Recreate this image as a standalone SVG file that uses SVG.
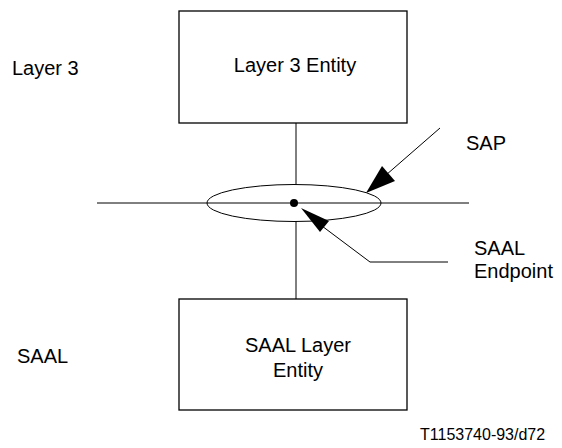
<svg xmlns="http://www.w3.org/2000/svg" width="562" height="448" viewBox="0 0 562 448">
<style>
.box{fill:#fff;stroke:#000;stroke-width:1.3}
.ln{fill:none;stroke:#000;stroke-width:1}
text{font-family:"Liberation Sans",Arial,sans-serif;font-size:20px;fill:#000}
.c{text-anchor:middle}
</style>
<rect width="562" height="448" fill="#fff"/>
<g id="connectors">
<line class="ln" x1="296" y1="123" x2="296" y2="184"/>
<line class="ln" x1="296" y1="221" x2="296" y2="299"/>
<line class="ln" x1="97" y1="203" x2="469" y2="203"/>
<line class="ln" x1="440" y1="128" x2="386" y2="175"/>
<polygon points="366,193 382,166 395,181" fill="#000"/>
<polyline class="ln" points="448,262 370,262 322,226"/>
<polygon points="301,208 329,221 320,232" fill="#000"/>
</g>
<g id="sap">
<ellipse class="ln" cx="294" cy="203" rx="87" ry="18.5"/>
<circle cx="294" cy="203" r="4" fill="#000"/>
</g>
<g id="layer3-entity">
<rect class="box" x="179" y="11" width="228" height="112"/>
<text class="c" x="295" y="72">Layer 3 Entity</text>
</g>
<g id="saal-entity">
<rect class="box" x="179" y="299" width="228" height="111"/>
<text class="c" x="298" y="352">SAAL Layer</text>
<text class="c" x="298" y="377">Entity</text>
</g>
<g id="labels">
<text x="12" y="75">Layer 3</text>
<text x="17" y="363">SAAL</text>
<text x="466" y="150">SAP</text>
<text x="474" y="255">SAAL</text>
<text x="474" y="278">Endpoint</text>
<text x="420" y="440" style="font-size:16px">T1153740-93/d72</text>
</g>
</svg>
